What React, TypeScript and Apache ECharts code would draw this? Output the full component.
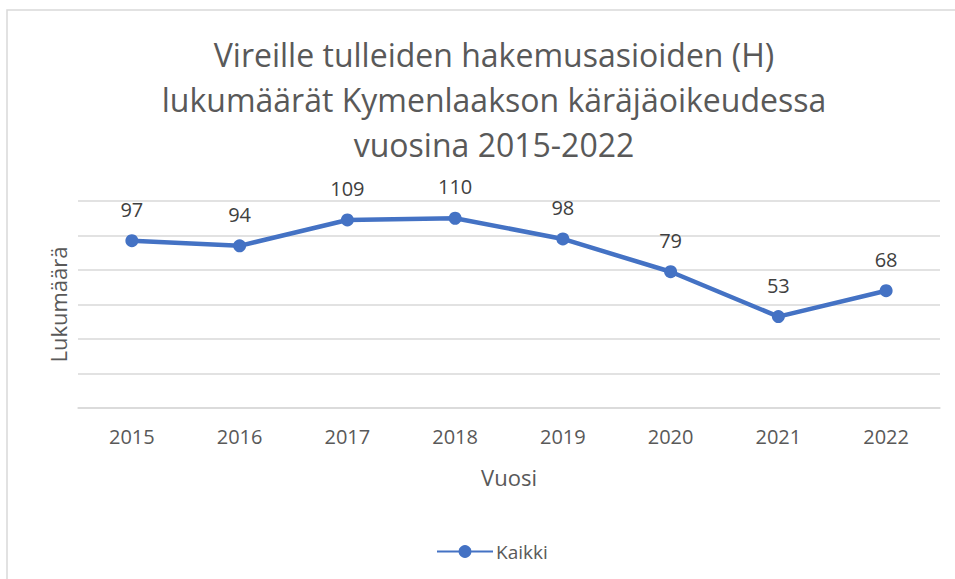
import React, { useEffect, useRef } from "react";
import * as echarts from "echarts";

const years = ["2015", "2016", "2017", "2018", "2019", "2020", "2021", "2022"];
const kaikki = [97, 94, 109, 110, 98, 79, 53, 68];
const seriesName = "Kaikki";
const titleText = "Vireille tulleiden hakemusasioiden (H)\nlukumäärät Kymenlaakson käräjäoikeudessa\nvuosina 2015-2022";
const xName = "Vuosi";
const yName = "Lukumäärä";

const FONT = "'Open Sans', sans-serif";

export default function App() {
  const ref = useRef<HTMLDivElement>(null);
  useEffect(() => {
    if (!ref.current) return;
    const chart = echarts.init(ref.current, null, { renderer: "svg" });
    chart.setOption({
      animation: false,
      backgroundColor: "#ffffff",
      textStyle: { fontFamily: FONT },
      title: {
        text: titleText,
        left: 489,
        textAlign: "center",
        top: 27,
        textStyle: {
          fontFamily: FONT,
          fontSize: 32,
          fontWeight: "normal",
          color: "#595959",
          lineHeight: 45,
        },
      },
      graphic: [
        {
          type: "rect",
          shape: { x: 7, y: 10, width: 1000, height: 700 },
          style: { fill: "none", stroke: "#d9d9d9", lineWidth: 1.5 },
          silent: true,
          z: -1,
        },
      ],
      legend: {
        data: [seriesName],
        left: 431,
        top: 537,
        itemWidth: 56,
        itemHeight: 16,
        itemGap: 4,
        textStyle: { fontFamily: FONT, fontSize: 19, color: "#595959", padding: [0, 0, 0, -2] },
      },
      grid: { left: 78, right: 15, top: 201, bottom: 171 },
      xAxis: {
        type: "category",
        data: years,
        boundaryGap: true,
        name: xName,
        nameLocation: "middle",
        nameGap: 58,
        nameTextStyle: { fontFamily: FONT, fontSize: 22, color: "#595959" },
        axisLine: { show: true, lineStyle: { color: "#d9d9d9", width: 1.5 } },
        axisTick: { show: false },
        axisLabel: { fontFamily: FONT, fontSize: 20, color: "#595959", margin: 18 },
      },
      yAxis: {
        type: "value",
        min: 0,
        max: 120,
        interval: 20,
        name: yName,
        nameLocation: "middle",
        nameGap: 9,
        nameRotate: 90,
        nameTextStyle: { fontFamily: FONT, fontSize: 22, color: "#595959" },
        axisLabel: { show: false },
        axisLine: { show: false },
        axisTick: { show: false },
        splitLine: { show: true, lineStyle: { color: "#d9d9d9", width: 1.5 } },
      },
      series: [
        {
          name: seriesName,
          type: "line",
          data: kaikki,
          symbol: "circle",
          symbolSize: 13,
          itemStyle: { color: "#4472C4" },
          lineStyle: { color: "#4472C4", width: 4.5 },
          label: {
            show: true,
            position: "top",
            distance: 15,
            fontFamily: FONT,
            fontSize: 20,
            color: "#404040",
          },
        },
      ],
    });
    return () => chart.dispose();
  }, []);
  return (
    <div
      ref={ref}
      style={{ position: "fixed", left: 0, top: 0, width: 955, height: 579 }}
    />
  );
}
